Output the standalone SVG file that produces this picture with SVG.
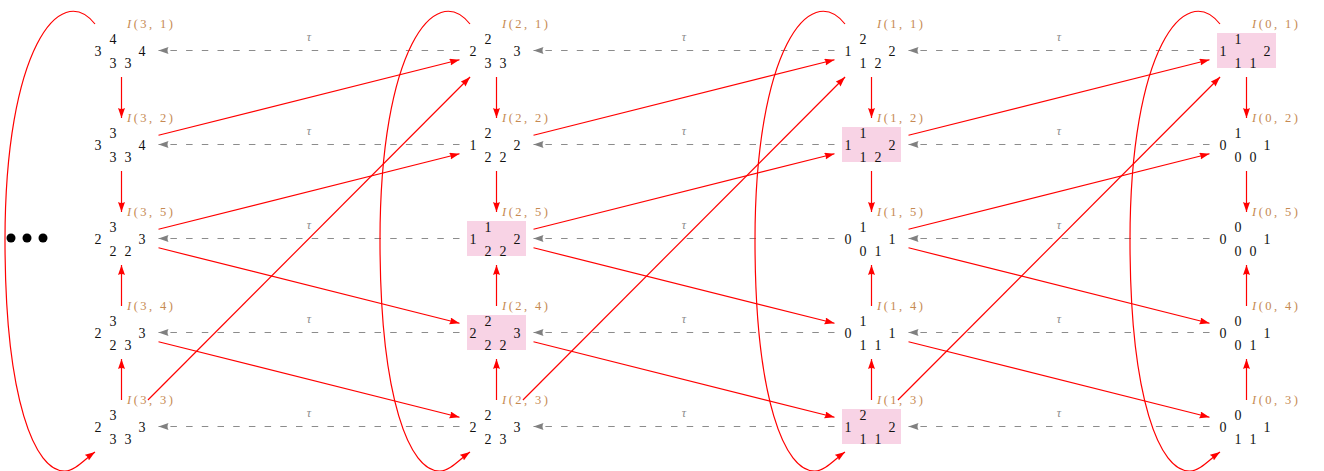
<svg xmlns="http://www.w3.org/2000/svg" width="1324" height="471" viewBox="0 0 1324 471">
<defs>
<marker id="ar" markerUnits="userSpaceOnUse" markerWidth="11" markerHeight="8" refX="10" refY="3.5" orient="auto"><path d="M0,0 L10,3.5 L0,7 Q2,3.5 0,0 z" fill="#ff0000"/></marker>
<marker id="ag" markerUnits="userSpaceOnUse" markerWidth="11" markerHeight="8" refX="10" refY="3.5" orient="auto"><path d="M0,0 L10,3.5 L0,7 Q2,3.5 0,0 z" fill="#808080"/></marker>
</defs>
<style>
text{font-family:"Liberation Serif","DejaVu Serif",serif}
.n text{font-size:14px;fill:#111;text-anchor:middle}
.box{fill:#f8d3e5}
.n text.lbl{font-size:12.5px;fill:#c68a52;text-anchor:start}
.tau{font-size:12px;font-style:italic;fill:#8a8a8a;text-anchor:middle}
.red{stroke:#ff0000;stroke-width:1.2;fill:none;marker-end:url(#ar)}
.dash{stroke:#8c8c8c;stroke-width:1.2;fill:none;stroke-dasharray:6.5 9.2;marker-end:url(#ag)}
</style>
<rect width="1324" height="471" fill="#fff"/>
<g id="dots"><circle cx="11" cy="238" r="4.5"/><circle cx="27" cy="238" r="4.5"/><circle cx="43" cy="238" r="4.5"/></g>
<g id="connectors">
<g id="dashed">
<path class="dash" d="M459.5,50.5H158.5"/><path class="dash" d="M459.5,144.5H158.5"/><path class="dash" d="M459.5,238.5H158.5"/><path class="dash" d="M459.5,332.5H158.5"/><path class="dash" d="M459.5,426.5H158.5"/>
<path class="dash" d="M834.5,50.5H533.5"/><path class="dash" d="M834.5,144.5H533.5"/><path class="dash" d="M834.5,238.5H533.5"/><path class="dash" d="M834.5,332.5H533.5"/><path class="dash" d="M834.5,426.5H533.5"/>
<path class="dash" d="M1209.5,50.5H908.5"/><path class="dash" d="M1209.5,144.5H908.5"/><path class="dash" d="M1209.5,238.5H908.5"/><path class="dash" d="M1209.5,332.5H908.5"/><path class="dash" d="M1209.5,426.5H908.5"/>
</g>
<g id="taus">
<text class="tau" x="309" y="40.5">τ</text><text class="tau" x="309" y="134.5">τ</text><text class="tau" x="309" y="228.5">τ</text><text class="tau" x="309" y="322.5">τ</text><text class="tau" x="309" y="416.5">τ</text>
<text class="tau" x="684" y="40.5">τ</text><text class="tau" x="684" y="134.5">τ</text><text class="tau" x="684" y="228.5">τ</text><text class="tau" x="684" y="322.5">τ</text><text class="tau" x="684" y="416.5">τ</text>
<text class="tau" x="1059" y="40.5">τ</text><text class="tau" x="1059" y="134.5">τ</text><text class="tau" x="1059" y="228.5">τ</text><text class="tau" x="1059" y="322.5">τ</text><text class="tau" x="1059" y="416.5">τ</text>
</g>
<g id="vertical">
<path class="red" d="M121.5,77V118"/><path class="red" d="M121.5,171V212"/><path class="red" d="M121.5,306V265"/><path class="red" d="M121.5,400V359"/>
<path class="red" d="M496.5,77V118"/><path class="red" d="M496.5,171V212"/><path class="red" d="M496.5,306V265"/><path class="red" d="M496.5,400V359"/>
<path class="red" d="M871.5,77V118"/><path class="red" d="M871.5,171V212"/><path class="red" d="M871.5,306V265"/><path class="red" d="M871.5,400V359"/>
<path class="red" d="M1246.5,77V118"/><path class="red" d="M1246.5,171V212"/><path class="red" d="M1246.5,306V265"/><path class="red" d="M1246.5,400V359"/>
</g>
<g id="diagonal">
<path class="red" d="M158.5,135.22L459.5,59.78"/><path class="red" d="M158.5,229.22L459.5,153.78"/><path class="red" d="M158.5,247.78L459.5,323.22"/><path class="red" d="M158.5,341.78L459.5,417.22"/><path class="red" d="M147.93,400L470.07,77"/>
<path class="red" d="M533.5,135.22L834.5,59.78"/><path class="red" d="M533.5,229.22L834.5,153.78"/><path class="red" d="M533.5,247.78L834.5,323.22"/><path class="red" d="M533.5,341.78L834.5,417.22"/><path class="red" d="M522.93,400L845.07,77"/>
<path class="red" d="M908.5,135.22L1209.5,59.78"/><path class="red" d="M908.5,229.22L1209.5,153.78"/><path class="red" d="M908.5,247.78L1209.5,323.22"/><path class="red" d="M908.5,341.78L1209.5,417.22"/><path class="red" d="M897.93,400L1220.07,77"/>
</g>
<g id="loops">
<path class="red" d="M95,24 C60,-20 5,50 5,240 C5,400 35,472 65,471 C75,471 85,459 95,452"/>
<path class="red" d="M470,24 C435,-20 380,50 380,240 C380,400 410,472 440,471 C450,471 460,459 470,452"/>
<path class="red" d="M845,24 C810,-20 755,50 755,240 C755,400 785,472 815,471 C825,471 835,459 845,452"/>
<path class="red" d="M1220,24 C1185,-20 1130,50 1130,240 C1130,400 1160,472 1190,471 C1200,471 1210,459 1220,452"/>
</g>
</g>
<g id="nodes">
<!-- column 3 -->
<g id="n3-1" class="n"><text x="113" y="43.5">4</text><text x="98" y="55.5">3</text><text x="142" y="55.5">4</text><text x="113" y="67.5">3</text><text x="128" y="67.5">3</text><text class="lbl" x="127" y="27.5" textLength="46" lengthAdjust="spacing"><tspan font-style="italic">I</tspan>(3, 1)</text></g>
<g id="n3-2" class="n"><text x="113" y="137.5">3</text><text x="98" y="149.5">3</text><text x="142" y="149.5">4</text><text x="113" y="161.5">3</text><text x="128" y="161.5">3</text><text class="lbl" x="127" y="121.5" textLength="46" lengthAdjust="spacing"><tspan font-style="italic">I</tspan>(3, 2)</text></g>
<g id="n3-5" class="n"><text x="113" y="231.5">3</text><text x="98" y="243.5">2</text><text x="142" y="243.5">3</text><text x="113" y="255.5">2</text><text x="128" y="255.5">2</text><text class="lbl" x="127" y="215.5" textLength="46" lengthAdjust="spacing"><tspan font-style="italic">I</tspan>(3, 5)</text></g>
<g id="n3-4" class="n"><text x="113" y="325.5">3</text><text x="98" y="337.5">2</text><text x="142" y="337.5">3</text><text x="113" y="349.5">2</text><text x="128" y="349.5">3</text><text class="lbl" x="127" y="309.5" textLength="46" lengthAdjust="spacing"><tspan font-style="italic">I</tspan>(3, 4)</text></g>
<g id="n3-3" class="n"><text x="113" y="419.5">3</text><text x="98" y="431.5">2</text><text x="142" y="431.5">3</text><text x="113" y="443.5">3</text><text x="128" y="443.5">3</text><text class="lbl" x="127" y="403.5" textLength="46" lengthAdjust="spacing"><tspan font-style="italic">I</tspan>(3, 3)</text></g>
<!-- column 2 -->
<g id="n2-1" class="n"><text x="488" y="43.5">2</text><text x="473" y="55.5">2</text><text x="517" y="55.5">3</text><text x="488" y="67.5">3</text><text x="503" y="67.5">3</text><text class="lbl" x="502" y="27.5" textLength="46" lengthAdjust="spacing"><tspan font-style="italic">I</tspan>(2, 1)</text></g>
<g id="n2-2" class="n"><text x="488" y="137.5">2</text><text x="473" y="149.5">1</text><text x="517" y="149.5">2</text><text x="488" y="161.5">2</text><text x="503" y="161.5">2</text><text class="lbl" x="502" y="121.5" textLength="46" lengthAdjust="spacing"><tspan font-style="italic">I</tspan>(2, 2)</text></g>
<g id="n2-5" class="n"><rect class="box" x="467" y="221" width="59" height="35"/><text x="488" y="231.5">1</text><text x="473" y="243.5">1</text><text x="517" y="243.5">2</text><text x="488" y="255.5">2</text><text x="503" y="255.5">2</text><text class="lbl" x="502" y="215.5" textLength="46" lengthAdjust="spacing"><tspan font-style="italic">I</tspan>(2, 5)</text></g>
<g id="n2-4" class="n"><rect class="box" x="467" y="315" width="59" height="35"/><text x="488" y="325.5">2</text><text x="473" y="337.5">2</text><text x="517" y="337.5">3</text><text x="488" y="349.5">2</text><text x="503" y="349.5">2</text><text class="lbl" x="502" y="309.5" textLength="46" lengthAdjust="spacing"><tspan font-style="italic">I</tspan>(2, 4)</text></g>
<g id="n2-3" class="n"><text x="488" y="419.5">2</text><text x="473" y="431.5">2</text><text x="517" y="431.5">3</text><text x="488" y="443.5">2</text><text x="503" y="443.5">3</text><text class="lbl" x="502" y="403.5" textLength="46" lengthAdjust="spacing"><tspan font-style="italic">I</tspan>(2, 3)</text></g>
<!-- column 1 -->
<g id="n1-1" class="n"><text x="863" y="43.5">2</text><text x="848" y="55.5">1</text><text x="892" y="55.5">2</text><text x="863" y="67.5">1</text><text x="878" y="67.5">2</text><text class="lbl" x="877" y="27.5" textLength="46" lengthAdjust="spacing"><tspan font-style="italic">I</tspan>(1, 1)</text></g>
<g id="n1-2" class="n"><rect class="box" x="842" y="127" width="59" height="35"/><text x="863" y="137.5">1</text><text x="848" y="149.5">1</text><text x="892" y="149.5">2</text><text x="863" y="161.5">1</text><text x="878" y="161.5">2</text><text class="lbl" x="877" y="121.5" textLength="46" lengthAdjust="spacing"><tspan font-style="italic">I</tspan>(1, 2)</text></g>
<g id="n1-5" class="n"><text x="863" y="231.5">1</text><text x="848" y="243.5">0</text><text x="892" y="243.5">1</text><text x="863" y="255.5">0</text><text x="878" y="255.5">1</text><text class="lbl" x="877" y="215.5" textLength="46" lengthAdjust="spacing"><tspan font-style="italic">I</tspan>(1, 5)</text></g>
<g id="n1-4" class="n"><text x="863" y="325.5">1</text><text x="848" y="337.5">0</text><text x="892" y="337.5">1</text><text x="863" y="349.5">1</text><text x="878" y="349.5">1</text><text class="lbl" x="877" y="309.5" textLength="46" lengthAdjust="spacing"><tspan font-style="italic">I</tspan>(1, 4)</text></g>
<g id="n1-3" class="n"><rect class="box" x="842" y="409" width="59" height="35"/><text x="863" y="419.5">2</text><text x="848" y="431.5">1</text><text x="892" y="431.5">2</text><text x="863" y="443.5">1</text><text x="878" y="443.5">1</text><text class="lbl" x="877" y="403.5" textLength="46" lengthAdjust="spacing"><tspan font-style="italic">I</tspan>(1, 3)</text></g>
<!-- column 0 -->
<g id="n0-1" class="n"><rect class="box" x="1217" y="33" width="59" height="35"/><text x="1238" y="43.5">1</text><text x="1223" y="55.5">1</text><text x="1267" y="55.5">2</text><text x="1238" y="67.5">1</text><text x="1253" y="67.5">1</text><text class="lbl" x="1252" y="27.5" textLength="46" lengthAdjust="spacing"><tspan font-style="italic">I</tspan>(0, 1)</text></g>
<g id="n0-2" class="n"><text x="1238" y="137.5">1</text><text x="1223" y="149.5">0</text><text x="1267" y="149.5">1</text><text x="1238" y="161.5">0</text><text x="1253" y="161.5">0</text><text class="lbl" x="1252" y="121.5" textLength="46" lengthAdjust="spacing"><tspan font-style="italic">I</tspan>(0, 2)</text></g>
<g id="n0-5" class="n"><text x="1238" y="231.5">0</text><text x="1223" y="243.5">0</text><text x="1267" y="243.5">1</text><text x="1238" y="255.5">0</text><text x="1253" y="255.5">0</text><text class="lbl" x="1252" y="215.5" textLength="46" lengthAdjust="spacing"><tspan font-style="italic">I</tspan>(0, 5)</text></g>
<g id="n0-4" class="n"><text x="1238" y="325.5">0</text><text x="1223" y="337.5">0</text><text x="1267" y="337.5">1</text><text x="1238" y="349.5">0</text><text x="1253" y="349.5">1</text><text class="lbl" x="1252" y="309.5" textLength="46" lengthAdjust="spacing"><tspan font-style="italic">I</tspan>(0, 4)</text></g>
<g id="n0-3" class="n"><text x="1238" y="419.5">0</text><text x="1223" y="431.5">0</text><text x="1267" y="431.5">1</text><text x="1238" y="443.5">1</text><text x="1253" y="443.5">1</text><text class="lbl" x="1252" y="403.5" textLength="46" lengthAdjust="spacing"><tspan font-style="italic">I</tspan>(0, 3)</text></g>
</g>
</svg>
